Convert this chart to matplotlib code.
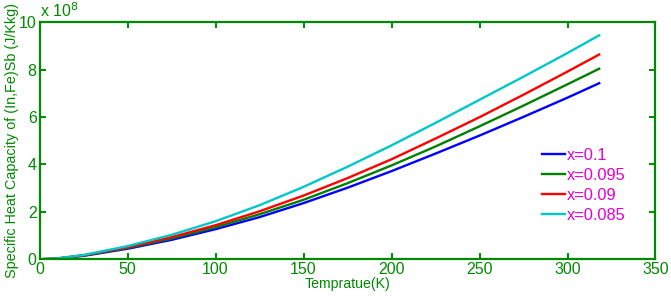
import matplotlib
matplotlib.use('Agg')
import matplotlib.pyplot as plt

# temperature (K) and specific heat (units of 1e8 J/Kkg)
temp = [0, 10, 25, 50, 75, 100, 125, 150, 175, 200, 225, 250, 275, 300, 318]
cp_010 = [0, 0.03, 0.145, 0.445, 0.82, 1.27, 1.78, 2.37, 3.02, 3.72, 4.46, 5.22, 6.01, 6.82, 7.43]
cp_0095 = [0, 0.03, 0.16, 0.48, 0.88, 1.355, 1.9, 2.51, 3.21, 3.96, 4.76, 5.61, 6.485, 7.385, 8.04]
cp_009 = [0, 0.035, 0.17, 0.508, 0.933, 1.438, 2.025, 2.687, 3.425, 4.22, 5.095, 5.995, 6.945, 7.92, 8.64]
cp_0085 = [0, 0.04, 0.18, 0.555, 1.03, 1.605, 2.28, 3.055, 3.905, 4.805, 5.755, 6.73, 7.705, 8.705, 9.45]
labels = ['x=0.1', 'x=0.095', 'x=0.09', 'x=0.085']
colors = ['#0000FF', '#008000', '#FF0000', '#00C8C8']

green = '#008A00'
plt.rcParams['font.family'] = ['Liberation Sans', 'DejaVu Sans']

fig = plt.figure(figsize=(6.71, 2.96), dpi=100)
ax = fig.add_axes([0.0589, 0.124, 0.918, 0.8007])

for ys, lab, c in zip([cp_010, cp_0095, cp_009, cp_0085], labels, colors):
    ax.plot(temp, ys, color=c, lw=1.7, label=lab)

ax.set_xlim(0, 350)
ax.set_ylim(0, 10)
ax.set_xticks(range(0, 351, 50))
ax.set_yticks(range(0, 11, 2))

for sp in ax.spines.values():
    sp.set_color(green)
    sp.set_linewidth(1.6)
ax.tick_params(direction='in', length=4, width=1.4, colors=green, labelsize=11.5,
               top=True, right=True, pad=2)

ax.set_xlabel('Tempratue(K)', color=green, fontsize=10.2, labelpad=0)
ax.set_ylabel('Specific Heat Capacity of (In,Fe)Sb (J/Kkg)', color=green, fontsize=10.4, labelpad=0)
ax.text(0.0, 1.01, r'x 10$^{8}$', transform=ax.transAxes, color=green, fontsize=11.5,
        ha='left', va='bottom')

leg = ax.legend(loc='upper left', bbox_to_anchor=(0.815, 0.47), frameon=False, fontsize=11.8,
                handlelength=1.45, handletextpad=0.1, labelspacing=0.3, borderpad=0,
                borderaxespad=0)
for t in leg.get_texts():
    t.set_color('#E600D2')

fig.savefig('out.png', dpi=100)
